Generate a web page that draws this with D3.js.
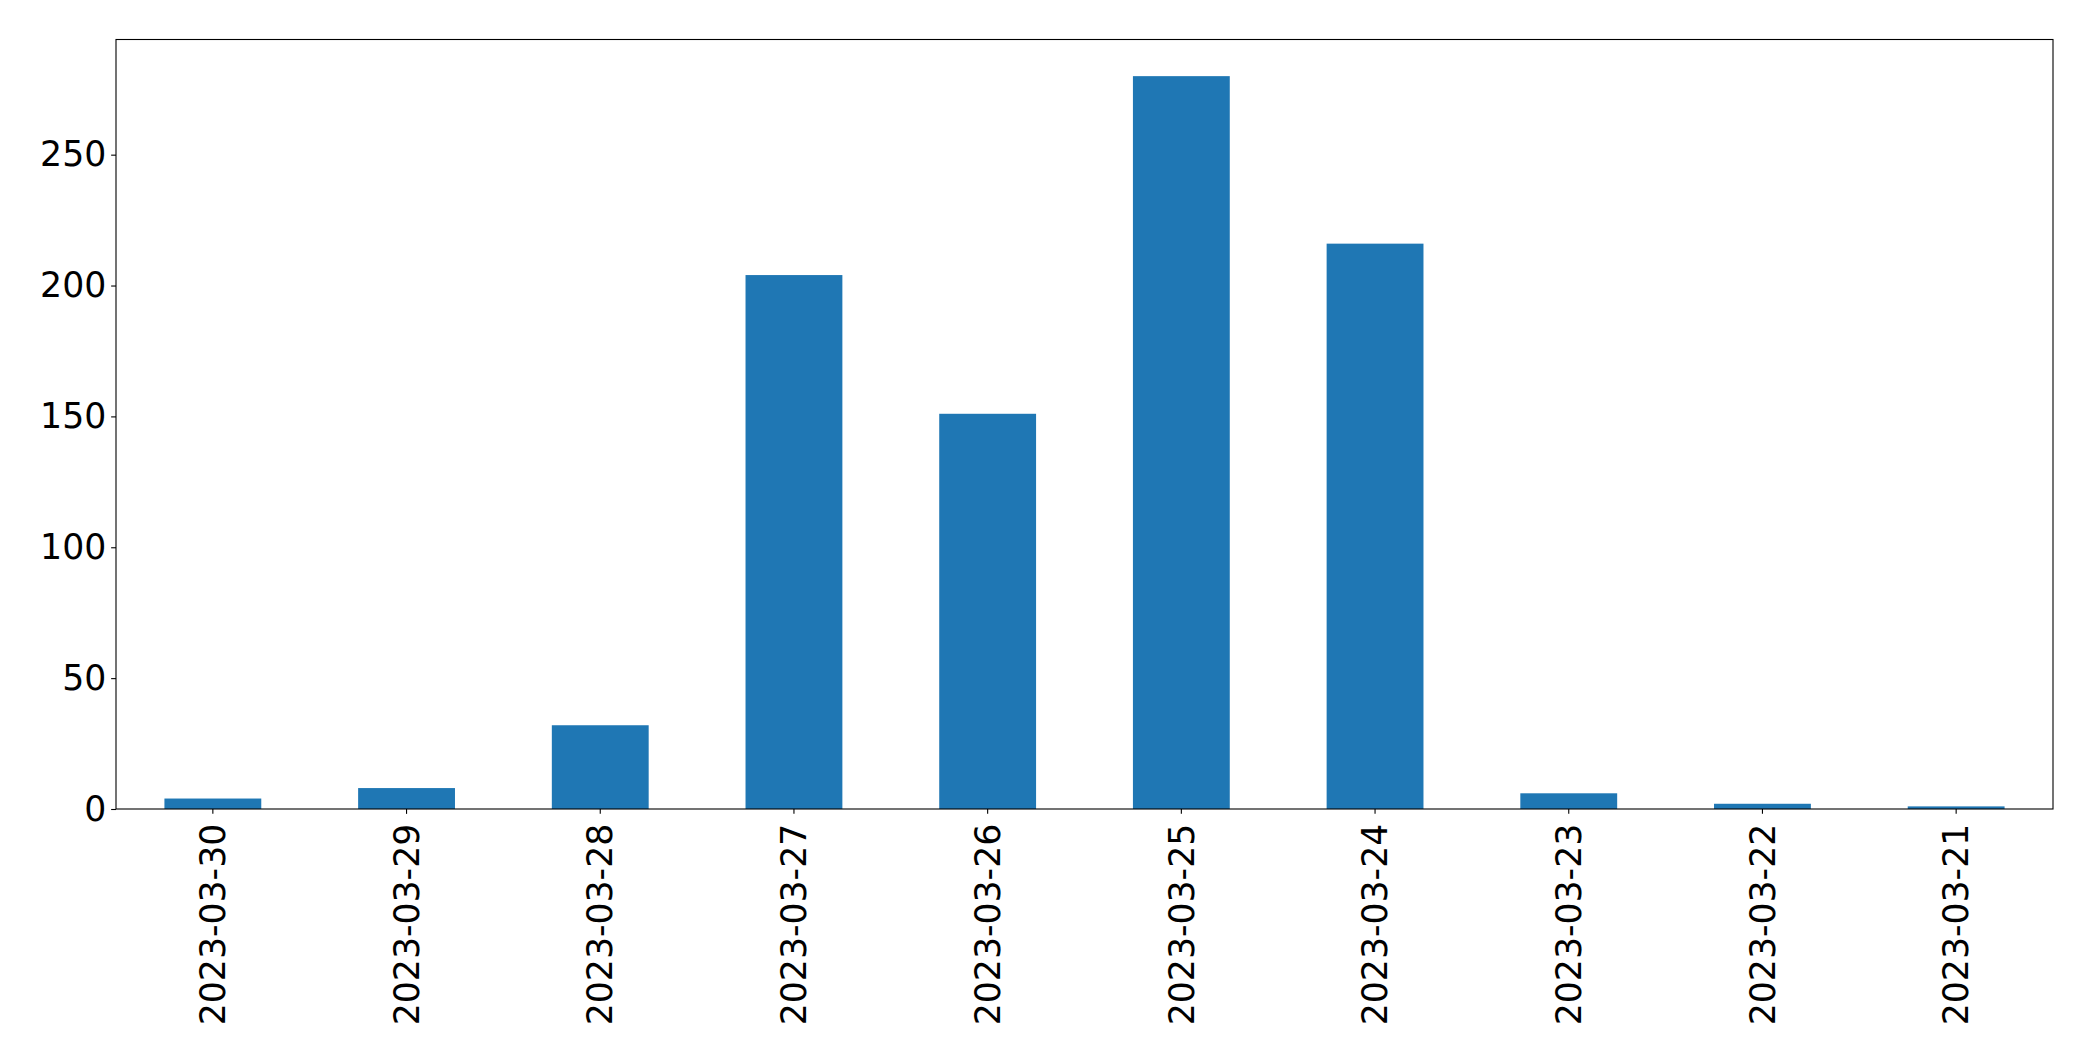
<!DOCTYPE html>
<html>
<head>
<meta charset="utf-8">
<script src="https://cdn.jsdelivr.net/npm/d3@7"></script>
<style>
html,body{margin:0;padding:0;background:#fff;}
svg{display:block;}
</style>
</head>
<body>
<script>
const categories = ["2023-03-30","2023-03-29","2023-03-28","2023-03-27","2023-03-26","2023-03-25","2023-03-24","2023-03-23","2023-03-22","2023-03-21"];
const values = [4, 8, 32, 204, 151, 280, 216, 6, 2, 1];
const yTicks = [0, 50, 100, 150, 200, 250];

const W = 2093, H = 1061;
const margin = {left: 116, right: W - 2053, top: 39.5, bottom: H - 809};
const fontSize = 34.7;
const font = "'DejaVu Sans', sans-serif";

const svg = d3.select("body").append("svg").attr("width", W).attr("height", H);

const x = d3.scaleBand().domain(categories).range([margin.left, W - margin.right]).paddingInner(0.5).paddingOuter(0.25);
const y = d3.scaleLinear().domain([0, d3.max(values) * 1.05]).range([H - margin.bottom, margin.top]);

svg.append("g").selectAll("rect").data(values).join("rect")
  .attr("x", (d, i) => x(categories[i]))
  .attr("width", x.bandwidth())
  .attr("y", d => y(d))
  .attr("height", d => y(0) - y(d))
  .attr("fill", "#1f77b4");

const tickLen = 4.86, pad = 4.86;

const yAxis = svg.append("g").attr("transform", `translate(${margin.left},0)`)
  .call(d3.axisLeft(y).tickValues(yTicks).tickSize(tickLen).tickPadding(pad).tickFormat(d3.format("d")));
yAxis.select(".domain").remove();
yAxis.selectAll("line").attr("stroke", "#000").attr("stroke-width", 1.1);
yAxis.selectAll("text").attr("font-family", font).attr("font-size", fontSize).attr("fill", "#000");

const xAxis = svg.append("g").attr("transform", `translate(0,${H - margin.bottom})`)
  .call(d3.axisBottom(x).tickSize(tickLen).tickPadding(pad));
xAxis.select(".domain").remove();
xAxis.selectAll("line").attr("stroke", "#000").attr("stroke-width", 1.1);
xAxis.selectAll("text")
  .attr("font-family", font).attr("font-size", fontSize).attr("fill", "#000")
  .attr("transform", `translate(0,${tickLen + pad + 5}) rotate(-90)`)
  .attr("x", 0).attr("y", 0).attr("dy", "0.35em")
  .attr("text-anchor", "end");

svg.append("rect")
  .attr("x", margin.left).attr("y", margin.top)
  .attr("width", W - margin.left - margin.right)
  .attr("height", H - margin.top - margin.bottom)
  .attr("fill", "none").attr("stroke", "#000").attr("stroke-width", 1.1);
</script>
</body>
</html>
